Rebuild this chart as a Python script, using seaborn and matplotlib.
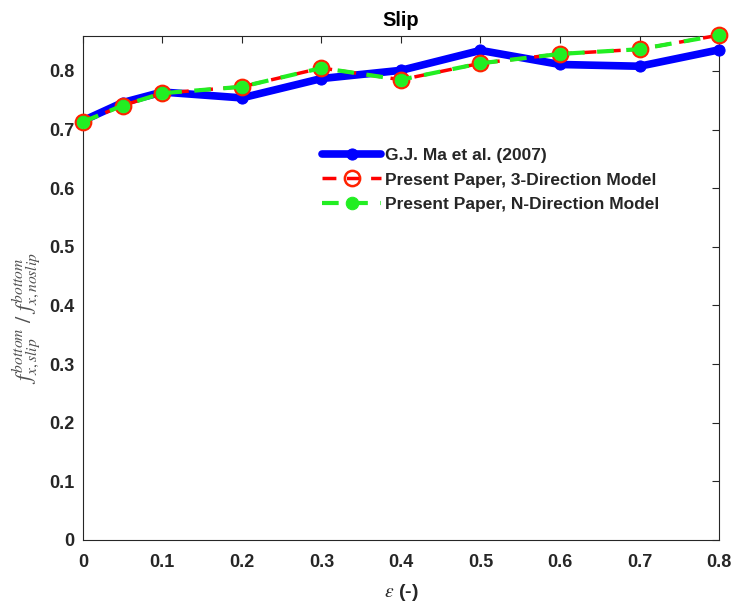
import matplotlib
matplotlib.use("Agg")
import matplotlib.pyplot as plt
import seaborn as sns
import pandas as pd

eps = [0, 0.05, 0.1, 0.2, 0.3, 0.4, 0.5, 0.6, 0.7, 0.8]
ma2007 = [0.715, 0.746, 0.764, 0.754, 0.787, 0.801, 0.835, 0.811, 0.808, 0.836]
present_3dir = [0.713, 0.741, 0.762, 0.773, 0.805, 0.785, 0.813, 0.829, 0.837, 0.861]
present_ndir = [0.713, 0.741, 0.762, 0.773, 0.805, 0.785, 0.813, 0.829, 0.837, 0.861]
xticks = [0, 0.1, 0.2, 0.3, 0.4, 0.5, 0.6, 0.7, 0.8]
yticks = [0, 0.1, 0.2, 0.3, 0.4, 0.5, 0.6, 0.7, 0.8]

sns.set_style("white")
plt.rcParams['font.family'] = ['Liberation Sans', 'DejaVu Sans']
plt.rcParams['mathtext.fontset'] = 'stix'

df = pd.DataFrame({"eps": eps, "ma": ma2007, "p3": present_3dir, "pn": present_ndir})

fig = plt.figure(figsize=(7.33, 6.06), dpi=100)
ax = fig.add_axes([0.113, 0.109, 0.868, 0.832])

sns.lineplot(data=df, x="eps", y="ma", ax=ax, color="#0000ff", linewidth=5.5,
             marker="o", markersize=8, markeredgecolor="#0000ff", clip_on=False,
             label="G.J. Ma et al. (2007)", zorder=3)
sns.lineplot(data=df, x="eps", y="p3", ax=ax, color="#ff0000", linewidth=2.5,
             linestyle=(0, (4, 3)), marker="o", markersize=11, markerfacecolor="none",
             markeredgecolor="#ff2200", markeredgewidth=1.8, clip_on=False,
             label="Present Paper, 3-Direction Model", zorder=4)
sns.lineplot(data=df, x="eps", y="pn", ax=ax, color="#22ee22", linewidth=3,
             linestyle=(0, (4, 3)), marker="o", markersize=9, markerfacecolor="#22ee22",
             markeredgecolor="#22ee22", clip_on=False,
             label="Present Paper, N-Direction Model", zorder=5)

ax.set_xlim(0, 0.8)
ax.set_ylim(0, 0.86)
ax.set_xticks(xticks)
ax.set_yticks(yticks)
ax.set_xticklabels([("%g" % v) for v in xticks], fontweight="bold", fontsize=13)
ax.set_yticklabels([("%g" % v) for v in yticks], fontweight="bold", fontsize=13)
ax.tick_params(axis="both", direction="in", length=5, width=0.8, colors="#262626",
               top=True, right=True, labelcolor="#262626", pad=6)
ax.tick_params(axis="x", pad=10)
for s in ax.spines.values():
    s.set_color("#262626")
    s.set_linewidth(0.8)

ax.set_xlabel(r"$\epsilon$ (-)", fontsize=14, fontweight="bold", color="#262626", labelpad=8)
ax.set_ylabel(r"$f^{bottom}_{x,slip}\ /\ f^{bottom}_{x,noslip}$", fontsize=16,
              color="#505050")
ax.yaxis.set_label_coords(-0.064, 0.44)
ax.set_title("Slip", fontsize=14.5, fontweight="bold", color="#000000", pad=7)

leg = ax.legend(loc="upper left", bbox_to_anchor=(0.376, 0.778), frameon=False,
                prop={"weight": "bold", "size": 12.5}, handlelength=3.4,
                handletextpad=0.25, labelspacing=0.55, borderpad=0, borderaxespad=0)

fig.savefig("out.png", dpi=100)
